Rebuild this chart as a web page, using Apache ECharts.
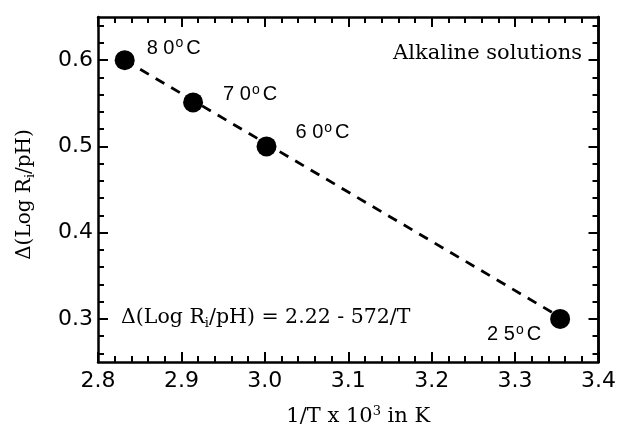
<!DOCTYPE html>
<html>
<head>
<meta charset="utf-8">
<script src="https://cdn.jsdelivr.net/npm/echarts@6/dist/echarts.min.js"></script>
<style>
  html, body { margin: 0; padding: 0; background: #fff; }
  #chart { width: 619px; height: 432px; }
</style>
</head>
<body>
<div id="chart"></div>
<script>
// Measured points: inverse temperature (1/T x 10^3, K^-1) and Δ(Log Ri/pH)
const tempLabels = ['8 0', '7 0', '6 0', '2 5'];
const invT = [2.832, 2.914, 3.002, 3.354];
const deltaLog = [0.600, 0.551, 0.500, 0.300];

// End points of the fitted line Δ(Log Ri/pH) = 2.22 - 572/T
const fitX = [2.832, 3.354];
const fitY = [0.600, 0.302];

// Axis ticks
const xTicks = [2.8, 2.9, 3.0, 3.1, 3.2, 3.3, 3.4];
const yMajorTicks = [0.3, 0.4, 0.5, 0.6];
const yMinorTicks = [0.26, 0.28, 0.32, 0.34, 0.36, 0.38, 0.42, 0.44, 0.46, 0.48,
                     0.52, 0.54, 0.56, 0.58, 0.62, 0.64];

const SANS = '"DejaVu Sans", "Liberation Sans", sans-serif';
const LSANS = '"Liberation Sans", Arial, sans-serif';
const SERIF = '"DejaVu Serif", "Liberation Serif", serif';
const INK = '#000';

// label placement per point (right side for the hot points, left for 25 °C)
const labelPlace = [
  { position: 'right', offset: [7, -12] },
  { position: 'right', offset: [15, -8] },
  { position: 'right', offset: [14, -14] },
  { position: 'left', offset: [-4, 16] }
];

const points = invT.map((x, i) => ({
  value: [x, deltaLog[i]],
  label: {
    show: true,
    position: labelPlace[i].position,
    offset: labelPlace[i].offset,
    formatter: '{n|' + tempLabels[i] + '}{d|o}{n|C}',
    rich: {
      n: { fontFamily: LSANS, fontSize: 20, color: INK },
      d: { fontFamily: LSANS, fontSize: 14, color: INK, verticalAlign: 'top', padding: [0, 3, 9, 1] }
    }
  }
}));

const fitLine = fitX.map((x, i) => [x, fitY[i]]);

const tickStyle = { color: INK, width: 2 };
const lineStyleAxis = { color: INK, width: 2.5 };

function yAxisDef(pos, ticks, len, withLabels, withName) {
  return {
    type: 'value',
    position: pos,
    min: 0.25,
    max: 0.65,
    axisLine: { show: withLabels || pos === 'right', onZero: false, lineStyle: lineStyleAxis },
    axisTick: { show: true, inside: true, length: len, customValues: ticks, lineStyle: tickStyle },
    axisLabel: withLabels ? {
      show: true,
      customValues: yMajorTicks,
      formatter: v => v.toFixed(1),
      fontFamily: SANS, fontSize: 22, color: INK, margin: 5
    } : { show: false },
    splitLine: { show: false },
    name: withName ? '{t|Δ(Log R}{s|i}{t|/pH)}' : '',
    nameLocation: 'middle',
    nameRotate: 90,
    nameGap: 61,
    nameTextStyle: {
      padding: [0, 0, 0, -10],
      rich: {
        t: { fontFamily: SERIF, fontSize: 20, color: INK },
        s: { fontFamily: SERIF, fontSize: 13, color: INK, verticalAlign: 'bottom', padding: [12, 0, 0, 0] }
      }
    }
  };
}

const option = {
  animation: false,
  backgroundColor: '#fff',
  grid: { left: 98, right: 20, top: 17, bottom: 63 },
  xAxis: [
    {
      type: 'value',
      position: 'bottom',
      min: xTicks[0],
      max: xTicks[xTicks.length - 1],
      interval: 0.1,
      axisLine: { show: true, onZero: false, lineStyle: lineStyleAxis },
      axisTick: { show: true, inside: true, length: 10, lineStyle: tickStyle },
      minorTick: { show: true, splitNumber: 5, length: 6, lineStyle: tickStyle },
      axisLabel: {
        formatter: v => v.toFixed(1),
        fontFamily: SANS, fontSize: 22, color: INK, margin: 8
      },
      splitLine: { show: false },
      name: '{t|1/T x 10}{p|3}{t| in K}',
      nameLocation: 'middle',
      nameGap: 43,
      nameTextStyle: {
        padding: [0, 0, 0, 20],
        rich: {
          t: { fontFamily: SERIF, fontSize: 21, color: INK },
          p: { fontFamily: SERIF, fontSize: 13, color: INK, verticalAlign: 'top', padding: [0, 0, 10, 0] }
        }
      }
    },
    {
      type: 'value',
      position: 'top',
      min: xTicks[0],
      max: xTicks[xTicks.length - 1],
      interval: 0.1,
      axisLine: { show: true, onZero: false, lineStyle: lineStyleAxis },
      axisTick: { show: true, inside: true, length: 10, lineStyle: tickStyle },
      minorTick: { show: true, splitNumber: 5, length: 6, lineStyle: tickStyle },
      axisLabel: { show: false },
      splitLine: { show: false }
    }
  ],
  yAxis: [
    yAxisDef('left', yMajorTicks, 10, true, true),
    yAxisDef('right', yMajorTicks, 10, false, false),
    yAxisDef('left', yMinorTicks, 6, false, false),
    yAxisDef('right', yMinorTicks, 6, false, false)
  ],
  graphic: [
    {
      type: 'text',
      right: 37,
      top: 43,
      style: { text: 'Alkaline solutions', fontFamily: SERIF, fontSize: 21, fill: INK }
    },
    {
      type: 'text',
      left: 121,
      top: 307,
      style: {
        text: '{t|Δ(Log R}{s|i}{t|/pH) = 2.22 - 572/T}',
        rich: {
          t: { fontFamily: SERIF, fontSize: 20.5, fill: INK },
          s: { fontFamily: SERIF, fontSize: 13, fill: INK, verticalAlign: 'bottom', padding: [12, 0, 0, 0] }
        }
      }
    }
  ],
  series: [
    {
      type: 'line',
      data: fitLine,
      xAxisIndex: 0,
      yAxisIndex: 0,
      symbol: 'none',
      lineStyle: { color: INK, width: 2.8, type: [10, 8] },
      z: 1
    },
    {
      type: 'scatter',
      data: points,
      xAxisIndex: 0,
      yAxisIndex: 0,
      symbol: 'circle',
      symbolSize: 20,
      itemStyle: { color: INK, opacity: 1 },
      z: 3
    }
  ]
};

const chart = echarts.init(document.getElementById('chart'), null, { renderer: 'canvas' });
chart.setOption(option);
</script>
</body>
</html>
